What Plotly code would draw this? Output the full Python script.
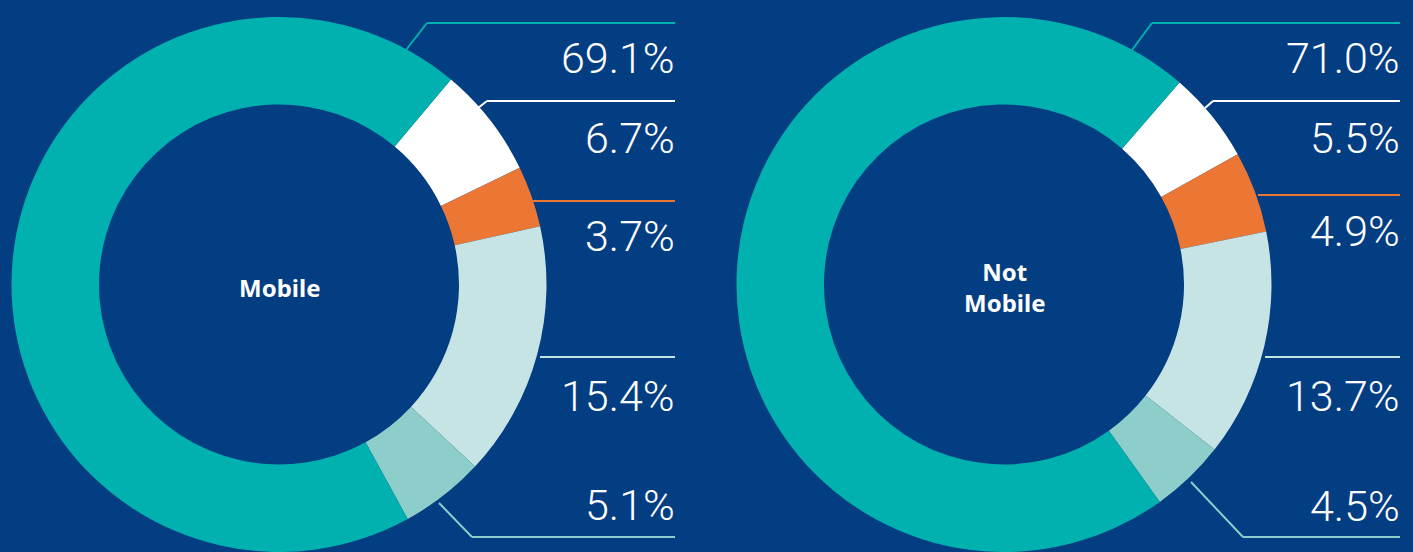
import plotly.graph_objects as go

W, H = 1413, 552
BG = "#033D82"

# Data
categories = ["White", "Orange", "Light", "Mid-teal", "Teal"]
colors = ["#FFFFFF", "#EC7735", "#C7E4E4", "#8DCDCA", "#00B1AF"]
mobile_values = [6.7, 3.7, 15.4, 5.1, 69.1]
not_mobile_values = [5.5, 4.9, 13.7, 4.5, 71.0]
chart_titles = ["Mobile", "Not<br>Mobile"]


def px(x):
    return x / W


def py(y):
    return 1 - y / H


fig = go.Figure()

centers = [279, 1004]
radius = 268
rotations = [40, 41]
for cx, vals, rot, title in zip(centers, [mobile_values, not_mobile_values], rotations, chart_titles):
    fig.add_trace(go.Pie(
        labels=categories, values=vals, sort=False, direction="clockwise",
        rotation=rot, hole=180 / 267.5,
        marker=dict(colors=colors, line=dict(width=0)),
        textinfo="none", hoverinfo="skip", showlegend=False,
        domain=dict(x=[px(cx - radius), px(cx + radius)], y=[0, py(17)]),
    ))
    fig.add_annotation(x=px(cx), y=py(287), xref="paper", yref="paper",
                       text="<b>" + title + "</b>", showarrow=False,
                       font=dict(family="Noto Sans", size=24, color="white"),
                       xanchor="center", yanchor="middle", align="center")

# Leader lines: (polyline points) for each chart, colors matching slices
leaders = [
    # left chart
    [("#00B1AF", [(406, 50), (427, 23), (675, 23)]),
     ("#FFFFFF", [(478, 108), (487, 101), (675, 101)]),
     ("#EC7735", [(533, 201), (675, 201)]),
     ("#C7E4E4", [(540, 357), (675, 357)]),
     ("#8DCDCA", [(439, 503), (472, 537), (675, 537)])],
    # right chart
    [("#00B1AF", [(1132, 50), (1152, 23), (1400, 23)]),
     ("#FFFFFF", [(1205, 108), (1213, 101), (1400, 101)]),
     ("#EC7735", [(1258, 195), (1400, 195)]),
     ("#C7E4E4", [(1265, 357), (1400, 357)]),
     ("#8DCDCA", [(1191, 482), (1243, 537), (1400, 537)])],
]
for group in leaders:
    for col, pts in group:
        for (x0, y0), (x1, y1) in zip(pts[:-1], pts[1:]):
            fig.add_shape(type="line", xref="paper", yref="paper",
                          x0=px(x0), y0=py(y0), x1=px(x1), y1=py(y1),
                          line=dict(color=col, width=2))

# Percentage labels: order in data is [white, orange, light, mid, teal]
label_y = [[138, 236, 396, 505, 58], [138, 231, 396, 506, 58]]
label_right = [677, 1402]
for vals, ys, xr in zip([mobile_values, not_mobile_values], label_y, label_right):
    for v, y in zip(vals, ys):
        fig.add_annotation(x=px(xr), y=py(y), xref="paper", yref="paper",
                           text=f"{v:.1f}%", showarrow=False,
                           xanchor="right", yanchor="middle",
                           font=dict(family="Roboto", size=43, color="white", weight=300))

fig.update_layout(width=W, height=H, margin=dict(l=0, r=0, t=0, b=0),
                  paper_bgcolor=BG, plot_bgcolor=BG)

fig.write_html(
    "out.html",
    config={"displayModeBar": False},
    post_script=(
        "document.body.style.margin='0';"
        "document.body.style.overflow='hidden';"
        "document.body.style.background='" + BG + "';"
    ),
)
